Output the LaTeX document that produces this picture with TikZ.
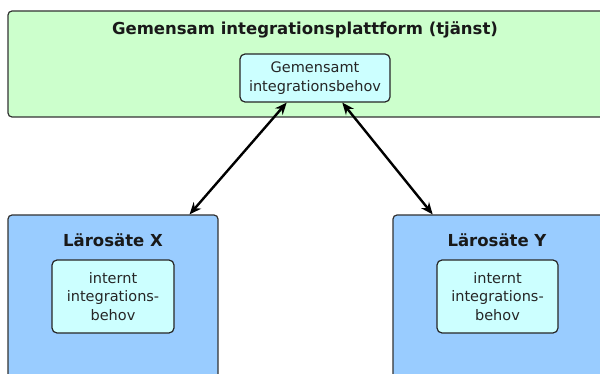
\documentclass[tikz,border=0pt]{standalone}
\usepackage{fontspec}
\setmainfont{DejaVu Sans}
\usetikzlibrary{arrows.meta}
\definecolor{plattformgreen}{RGB}{204,255,204}
\definecolor{lärosätesblue}{RGB}{153,204,255}
\definecolor{behovcyan}{RGB}{204,255,255}
\tikzstyle{every node}=[inner sep=0pt]
\tikzstyle{container}=[draw=black!80,line width=1.2pt,rounded corners=4pt]
\tikzstyle{behov}=[draw=black!85,line width=1.2pt,rounded corners=5pt,fill=behovcyan,
  align=center,text=black!85,font=\fontsize{14.5}{18.5}\selectfont]
\tikzstyle{rubrik}=[font=\fontsize{16.5}{18}\selectfont\bfseries,text=black!90]
\tikzstyle{koppling}=[line width=2.4pt,{Stealth[length=12pt,width=10pt,inset=4pt]}-{Stealth[length=12pt,width=10pt,inset=4pt]}]

\begin{document}
\begin{tikzpicture}[x=1pt,y=-1pt]
  \useasboundingbox (0,0) rectangle (600,374);
  \clip (0,0) rectangle (600,374);
  \node[container,fill=plattformgreen,minimum width=602pt,minimum height=106pt] (plattform) at (309,64) {};
  \node[rubrik] (plattformrubrik) at (305,30) {Gemensam integrationsplattform (tjänst)};
  \node[behov,minimum width=150pt,minimum height=48pt] (gemensamt) at (315,78) {Gemensamt\\integrationsbehov};

  \node[container,fill=lärosätesblue,minimum width=210pt,minimum height=175pt] (larosateX) at (113,302.5) {};
  \node[rubrik] (rubrikX) at (113,240) {Lärosäte X};
  \node[behov,minimum width=122pt,minimum height=73pt] (internX) at (113,296.5) {internt\\integrations-\\behov};

  \node[container,fill=lärosätesblue,minimum width=217pt,minimum height=175pt] (larosateY) at (501.5,302.5) {};
  \node[rubrik] (rubrikY) at (497,240) {Lärosäte Y};
  \node[behov,minimum width=121pt,minimum height=73pt] (internY) at (497.5,296.5) {internt\\integrations-\\behov};

  \draw[koppling] (gemensamt.221.6) -- (larosateX.49.3);
  \draw[koppling] (gemensamt.318.4) -- (larosateY.128.6);
\end{tikzpicture}
\end{document}
